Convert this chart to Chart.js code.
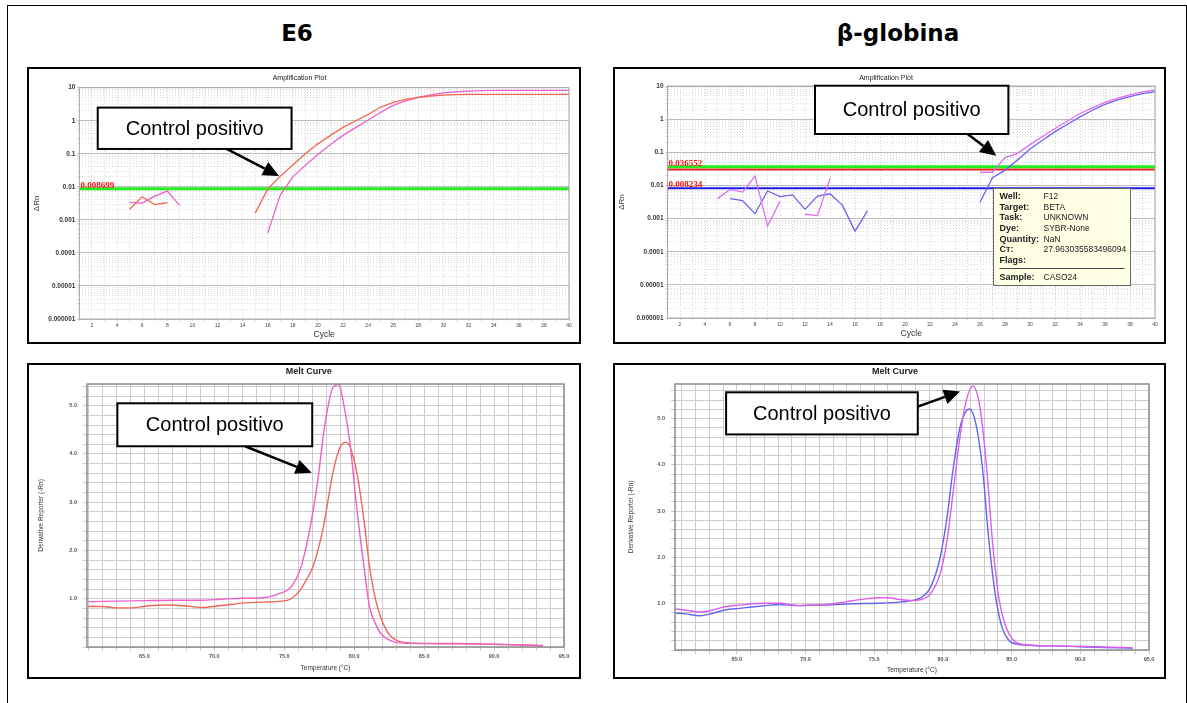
<!DOCTYPE html>
<html>
<head>
<meta charset="utf-8">
<script src="https://cdn.jsdelivr.net/npm/chart.js@4"></script>
<style>
body { margin: 0; background: #fff; }
#page { position: relative; width: 1187px; height: 703px; overflow: hidden; }
#frame { position: absolute; left: 7px; top: 5px; width: 1178px; height: 720px; border: 1px solid #000; }
.head { position: absolute; top: 20px; width: 240px; text-align: center; font: bold 23px "DejaVu Sans", Verdana, sans-serif; line-height: 26px; color: #000; }
.panel { position: absolute; border: 2px solid #000; background: #fff; }
.panel canvas { display: block; }
</style>
</head>
<body>
<div id="page">
  <div id="frame"></div>
  <div class="head" style="left:177px">E6</div>
  <div class="head" style="left:778px">β-globina</div>
  <div class="panel" style="left:27px;top:67px;width:550px;height:273px"><canvas id="c1" width="550" height="273"></canvas></div>
  <div class="panel" style="left:613px;top:67px;width:549px;height:273px"><canvas id="c2" width="549" height="273"></canvas></div>
  <div class="panel" style="left:27px;top:363px;width:550px;height:312px"><canvas id="c3" width="550" height="312"></canvas></div>
  <div class="panel" style="left:613px;top:363px;width:549px;height:312px"><canvas id="c4" width="549" height="312"></canvas></div>
</div>
<script>
const FONT = '"Liberation Sans", Arial, sans-serif';

// amplification plots: cycles and delta Rn per cycle (null = no trace)
const cycles = [1,2,3,4,5,6,7,8,9,10,11,12,13,14,15,16,17,18,19,20,21,22,23,24,25,26,27,28,29,30,31,32,33,34,35,36,37,38,39,40];
const ampXLabels = [2,4,6,8,10,12,14,16,18,20,22,24,26,28,30,32,34,36,38,40];
const ampDecades = [0.000001, 0.00001, 0.0001, 0.001, 0.01, 0.1, 1, 10];
const ampDecadeLabels = ['0.000001', '0.00001', '0.0001', '0.001', '0.01', '0.1', '1', '10'];

const e6Orange = [null,null,null,null,0.0021,0.005,0.0029,0.0033,null,null,null,null,null,null,
  0.0016,0.0085,0.021,0.046,0.10,0.20,0.36,0.63,1.0,1.55,2.6,3.6,4.4,5.1,5.6,6.0,6.2,6.3,6.3,6.3,6.3,6.3,6.3,6.3,6.3,6.3];
const e6Pink = [null,null,null,null,0.0034,0.0032,0.0052,0.0074,0.0027,null,null,null,null,null,null,
  0.0004,0.0056,0.020,0.045,0.095,0.19,0.36,0.62,1.05,1.8,2.9,4.0,5.1,6.1,7.0,7.5,7.9,8.1,8.3,8.3,8.3,8.3,8.3,8.3,8.3];
const e6Threshold = 0.008699;

const betaPink = [null,null,null,null,0.004,0.0076,0.0063,0.019,0.0006,0.0033,null,0.00135,0.00123,0.016,
  null,null,null,null,null,null,null,null,null,null,null,
  0.025,0.025,0.069,0.093,0.17,0.30,0.52,0.88,1.48,2.2,3.2,4.3,5.4,6.6,7.6];
const betaBlue = [null,null,null,null,null,0.004,0.0035,0.0014,0.0068,0.0046,0.0052,0.0019,0.0048,0.0056,0.0025,0.00042,0.0017,
  null,null,null,null,null,null,null,null,
  0.0031,0.017,0.029,0.059,0.125,0.23,0.42,0.70,1.17,1.85,2.8,3.8,4.8,5.9,6.8];
const betaThresholds = [0.036552, 0.030, 0.008234];

const tipRows = [['Well:', 'F12'], ['Target:', 'BETA'], ['Task:', 'UNKNOWN'], ['Dye:', 'SYBR-None'],
  ['Quantity:', 'NaN'], ['Cт:', '27.963035583496094'], ['Flags:', '']];
const tipSample = ['Sample:', 'CASO24'];

// melt curves: temperature (°C) and derivative reporter
const meltXTicks = [65, 70, 75, 80, 85, 90, 95];
const meltXLabels = ['65.0', '70.0', '75.0', '80.0', '85.0', '90.0', '95.0'];
const meltYTicks = [1, 2, 3, 4, 5];
const meltYLabels = ['1.0', '2.0', '3.0', '4.0', '5.0'];

const meltE6PinkT = [61,63,65,67,69,70.5,72,73.5,74.6,75.5,76.2,76.95,77.4,77.9,78.5,78.9,79.2,79.7,80.2,80.7,81.1,81.5,81.9,82.8,83.5,86,89,91,92.5,93.5];
const meltE6PinkV = [0.94,0.95,0.96,0.97,0.97,0.99,1.01,1.02,1.1,1.25,1.66,2.63,3.46,4.6,5.39,5.44,5.11,4.22,2.84,1.66,0.83,0.5,0.28,0.11,0.08,0.07,0.06,0.05,0.035,0.02];
const meltE6OrangeT = [61,62,63,64,65.2,66.5,68,69,70.5,72,73.5,74.8,75.5,76.14,76.6,77.1,77.8,78.5,79.0,79.4,79.7,80.2,80.7,81.1,81.6,82.3,83.0,84.2,88,91,93.5];
const meltE6OrangeV = [0.84,0.84,0.81,0.81,0.85,0.87,0.85,0.82,0.86,0.91,0.93,0.95,1.0,1.18,1.4,1.7,2.49,3.64,4.15,4.24,4.15,3.6,2.63,1.66,0.9,0.35,0.14,0.08,0.07,0.05,0.03];

const meltBetaPinkT = [60.5,61.3,62.3,63.2,64.2,65.2,66.1,67,68.1,69.5,70.5,71.4,72.5,73.3,74.3,75.3,76.0,76.9,77.7,78.4,79.1,79.8,80.3,80.76,81.24,81.7,82.2,82.56,82.8,83.2,83.6,84.1,84.6,85.1,85.8,88,91,93.8];
const meltBetaPinkV = [0.89,0.86,0.82,0.86,0.94,0.97,1.0,1.01,1.01,0.96,0.97,0.98,1.02,1.06,1.1,1.13,1.13,1.09,1.07,1.09,1.22,1.65,2.37,3.45,4.6,5.39,5.71,5.46,5.03,3.88,2.37,1.07,0.49,0.22,0.12,0.09,0.07,0.05];
const meltBetaBlueT = [60.5,61.3,62.3,63.2,64.2,65.2,66.1,67.1,68.1,69.5,70.5,71.4,72.5,73.3,75.3,76.9,78.4,79.1,79.8,80.3,80.76,81.24,81.7,81.95,82.4,82.9,83.3,83.8,84.3,84.8,85.5,88,91,93.8];
const meltBetaBlueV = [0.80,0.78,0.74,0.79,0.87,0.90,0.93,0.96,0.985,0.96,0.97,0.97,0.99,1.0,1.01,1.04,1.13,1.36,2.0,2.87,3.95,4.81,5.17,5.21,4.89,3.88,2.51,1.22,0.49,0.21,0.12,0.09,0.06,0.04];

// extra drawing per canvas (titles, threshold labels, callouts, tooltip box)
const overlays = {};

const overlayPlugin = {
  id: 'overlay',
  afterDatasetsDraw(chart) {
    const o = overlays[chart.canvas.id];
    if (!o) return;
    const ctx = chart.ctx, a = chart.chartArea;
    const px = v => chart.scales.x.getPixelForValue(v);
    const py = v => chart.scales.y.getPixelForValue(v);
    ctx.save();
    ctx.strokeStyle = o.frame;
    ctx.lineWidth = o.frameWidth;
    ctx.strokeRect(a.left, a.top, a.right - a.left, a.bottom - a.top);

    ctx.font = 'bold 9px "Liberation Serif", "Times New Roman", serif';
    ctx.fillStyle = '#ff1010';
    ctx.textAlign = 'left';
    ctx.textBaseline = 'alphabetic';
    (o.labels || []).forEach(l => ctx.fillText(l.text, a.left + 1, py(l.value) - 1));

    (o.notes || []).forEach(n => {
      const x1 = px(n.box[0]), y1 = py(n.box[1]), x2 = px(n.box[2]), y2 = py(n.box[3]);
      const fx = px(n.from[0]), fy = py(n.from[1]), tx = px(n.to[0]), ty = py(n.to[1]);
      const ang = Math.atan2(ty - fy, tx - fx);
      const hl = 16, hw = 7.5;
      const bx = tx - hl * Math.cos(ang), by = ty - hl * Math.sin(ang);
      ctx.strokeStyle = '#000';
      ctx.lineWidth = 2.5;
      ctx.beginPath(); ctx.moveTo(fx, fy); ctx.lineTo(bx, by); ctx.stroke();
      ctx.beginPath();
      ctx.moveTo(tx, ty);
      ctx.lineTo(bx + hw * Math.sin(ang), by - hw * Math.cos(ang));
      ctx.lineTo(bx - hw * Math.sin(ang), by + hw * Math.cos(ang));
      ctx.closePath();
      ctx.fillStyle = '#000';
      ctx.fill();
      ctx.fillStyle = '#fff';
      ctx.fillRect(x1, y1, x2 - x1, y2 - y1);
      ctx.lineWidth = 2;
      ctx.strokeRect(x1, y1, x2 - x1, y2 - y1);
      ctx.fillStyle = '#000';
      ctx.font = '20px ' + FONT;
      ctx.textAlign = 'center';
      ctx.textBaseline = 'middle';
      ctx.fillText(n.text, (x1 + x2) / 2, (y1 + y2) / 2 + 1);
    });

    if (o.tip) {
      const t = o.tip;
      const x1 = Math.round(px(t.box[0])) + 0.5, y1 = Math.round(py(t.box[1])) + 0.5;
      const x2 = Math.round(px(t.box[2])) + 0.5, y2 = Math.round(py(t.box[3])) + 0.5;
      ctx.fillStyle = '#ffffe3';
      ctx.fillRect(x1, y1, x2 - x1, y2 - y1);
      ctx.strokeStyle = '#666';
      ctx.lineWidth = 1;
      ctx.strokeRect(x1, y1, x2 - x1, y2 - y1);
      ctx.textAlign = 'left';
      ctx.textBaseline = 'middle';
      ctx.fillStyle = '#222';
      const row = (r, yy) => {
        ctx.font = 'bold 9px ' + FONT;
        ctx.fillText(r[0], x1 + 6, yy);
        ctx.font = '8.5px ' + FONT;
        ctx.fillText(r[1], x1 + 50, yy);
      };
      tipRows.forEach((r, i) => row(r, y1 + 8 + i * 10.7));
      ctx.strokeStyle = '#444';
      ctx.beginPath(); ctx.moveTo(x1 + 6, y1 + 80); ctx.lineTo(x2 - 6, y1 + 80); ctx.stroke();
      row(tipSample, y1 + 89.5);
    }
    ctx.restore();
  },
  afterDraw(chart) {
    const o = overlays[chart.canvas.id];
    if (!o || !o.title) return;
    const ctx = chart.ctx;
    ctx.save();
    ctx.font = o.title.font;
    ctx.fillStyle = '#222';
    ctx.textAlign = 'center';
    ctx.textBaseline = 'middle';
    ctx.fillText(o.title.text, o.title.x, o.title.y);
    ctx.restore();
  }
};

function ampChart(id, series, lines, g) {
  const datasets = series.map(s => ({
    data: s.values, borderColor: s.color, borderWidth: 1.3, pointRadius: 0, tension: 0, spanGaps: false
  }));
  lines.forEach(l => datasets.push({
    data: [{ x: cycles[0], y: l.value }, { x: cycles[cycles.length - 1], y: l.value }],
    borderColor: l.color, borderWidth: l.width, pointRadius: 0
  }));
  return new Chart(document.getElementById(id), {
    type: 'line',
    data: { labels: cycles, datasets: datasets },
    plugins: [overlayPlugin],
    options: {
      responsive: false,
      animation: false,
      layout: { padding: { left: 0, right: g.R, top: g.T, bottom: 0 } },
      plugins: { legend: { display: false }, tooltip: { enabled: false } },
      scales: {
        x: {
          type: 'linear', min: cycles[0], max: cycles[cycles.length - 1], bounds: 'data',
          afterBuildTicks: s => { s.ticks = cycles.map(v => ({ value: v })); },
          afterFit: s => { s.height = g.B; },
          ticks: {
            autoSkip: false, maxRotation: 0, padding: 2, color: '#444',
            font: { size: 5, family: FONT },
            callback: v => ampXLabels.includes(v) ? String(v) : ''
          },
          grid: { color: '#d2d2d2', tickLength: 2 },
          border: { display: false, dash: c => c.tick ? [1, 2] : [] },
          title: { display: true, text: 'Cycle', color: '#333', font: { size: 8.5, family: FONT }, padding: { top: 0, bottom: g.xPad } }
        },
        y: {
          type: 'logarithmic', min: ampDecades[0], max: ampDecades[ampDecades.length - 1], bounds: 'data',
          afterBuildTicks: s => {
            const t = [];
            ampDecades.forEach((d, i) => {
              t.push({ value: d, major: true });
              if (i < ampDecades.length - 1) for (let m = 2; m <= 9; m++) t.push({ value: d * m, major: false });
            });
            s.ticks = t;
          },
          afterFit: s => { s.width = g.L; },
          ticks: {
            autoSkip: false, padding: 2, color: '#333',
            font: { size: 6.5, weight: 'bold', family: FONT },
            callback: (v, i, t) => t[i].major ? ampDecadeLabels[ampDecades.indexOf(v)] : ''
          },
          grid: { color: c => c.tick && c.tick.major ? '#bdbdbd' : '#dcdcdc', tickLength: 2 },
          border: { display: false, dash: c => c.tick && !c.tick.major ? [1, 2] : [] },
          title: { display: true, text: 'ΔRn', color: '#333', font: { size: 8, family: FONT }, padding: { top: g.yPad, bottom: 0 } }
        }
      }
    }
  });
}

function meltChart(id, series, g) {
  return new Chart(document.getElementById(id), {
    type: 'line',
    data: {
      datasets: series.map(s => ({
        data: s.temps.map((t, i) => ({ x: t, y: s.values[i] })),
        borderColor: s.color, borderWidth: 1.4, pointRadius: 0, cubicInterpolationMode: 'monotone'
      }))
    },
    plugins: [overlayPlugin],
    options: {
      responsive: false,
      animation: false,
      layout: { padding: { left: 0, right: g.R, top: g.T, bottom: 0 } },
      plugins: { legend: { display: false }, tooltip: { enabled: false } },
      scales: {
        x: {
          type: 'linear', min: g.xMin, max: meltXTicks[meltXTicks.length - 1], bounds: 'data',
          afterBuildTicks: s => {
            const t = [];
            for (let v = Math.ceil(s.min); v <= s.max; v++) t.push({ value: v });
            s.ticks = t;
          },
          afterFit: s => { s.height = g.B; },
          ticks: {
            autoSkip: false, maxRotation: 0, padding: 2, color: '#555',
            font: { size: 5.5, weight: 'bold', family: FONT },
            callback: v => { const i = meltXTicks.indexOf(v); return i >= 0 ? meltXLabels[i] : ''; }
          },
          grid: { color: '#cccccc', tickLength: 4 },
          border: { display: false },
          title: { display: true, text: 'Temperature (°C)', color: '#333', font: { size: 6.5, family: FONT }, padding: { top: 0, bottom: g.xPad } }
        },
        y: {
          type: 'linear', min: 0, max: g.yMax, bounds: 'data',
          afterBuildTicks: s => {
            const t = [];
            for (let k = 0; k / 5 <= s.max; k++) t.push({ value: k / 5 });
            s.ticks = t;
          },
          afterFit: s => { s.width = g.L; },
          ticks: {
            autoSkip: false, padding: 6, color: '#555',
            font: { size: 5.5, weight: 'bold', family: FONT },
            callback: v => { const i = meltYTicks.findIndex(m => Math.abs(m - v) < 1e-6); return i >= 0 ? meltYLabels[i] : ''; }
          },
          grid: { color: '#cccccc', tickLength: 4 },
          border: { display: false },
          title: { display: true, text: 'Derivative Reporter (-Rn)', color: '#333', font: { size: 6.5, family: FONT }, padding: { top: g.yPad, bottom: 0 } }
        }
      }
    }
  });
}

overlays.c1 = {
  frame: '#a8a8a8', frameWidth: 1,
  title: { text: 'Amplification Plot', x: 270.5, y: 9, font: '7px ' + FONT },
  labels: [{ text: '0.008699', value: e6Threshold }],
  notes: [{ text: 'Control positivo', box: [2.46, 2.5, 17.9, 0.14], from: [12.73, 0.14], to: [16.9, 0.0214] }]
};
overlays.c2 = {
  frame: '#a8a8a8', frameWidth: 1,
  title: { text: 'Amplification Plot', x: 271, y: 9, font: '7px ' + FONT },
  labels: [{ text: '0.036552', value: betaThresholds[0] }, { text: '0.008234', value: betaThresholds[2] }],
  notes: [{ text: 'Control positivo', box: [12.8, 10.2, 28.27, 0.356], from: [24.9, 0.38], to: [27.3, 0.079] }],
  tip: { box: [27.07, 0.0085, 37.97, 0.0000099] }
};
overlays.c3 = {
  frame: '#8c8c8c', frameWidth: 1.5,
  title: { text: 'Melt Curve', x: 279.7, y: 7, font: 'bold 9px ' + FONT },
  notes: [{ text: 'Control positivo', box: [63.07, 5.05, 77.0, 4.16], from: [72.2, 4.16], to: [76.96, 3.61] }]
};
overlays.c4 = {
  frame: '#8c8c8c', frameWidth: 1.5,
  title: { text: 'Melt Curve', x: 280, y: 7, font: 'bold 9px ' + FONT },
  notes: [{ text: 'Control positivo', box: [64.22, 5.57, 78.17, 4.66], from: [78.17, 5.26], to: [81.24, 5.59] }]
};

ampChart('c1',
  [{ values: e6Orange, color: '#f3684c' }, { values: e6Pink, color: '#f060cc' }],
  [{ value: e6Threshold, color: '#22ee22', width: 3 }],
  { L: 50.4, R: 10, T: 18.7, B: 23, xPad: 2.6, yPad: 3.2 });

ampChart('c2',
  [{ values: betaPink, color: '#dd6ef0' }, { values: betaBlue, color: '#6b63f0' }],
  [{ value: betaThresholds[0], color: '#22ee22', width: 3 },
   { value: betaThresholds[1], color: '#ee1c1c', width: 2 },
   { value: betaThresholds[2], color: '#1a1aee', width: 2 }],
  { L: 52.5, R: 9, T: 17, B: 24, xPad: 3.6, yPad: 1.9 });

meltChart('c3',
  [{ temps: meltE6PinkT, values: meltE6PinkV, color: '#ee60c8' }, { temps: meltE6OrangeT, values: meltE6OrangeV, color: '#f0665a' }],
  { L: 58, R: 15, T: 19, B: 30, xMin: 60.9, yMax: 5.45, xPad: 4.8, yPad: 8.8 });

meltChart('c4',
  [{ temps: meltBetaPinkT, values: meltBetaPinkV, color: '#dd5ee8' }, { temps: meltBetaBlueT, values: meltBetaBlueV, color: '#6464ee' }],
  { L: 60, R: 15, T: 19, B: 27, xMin: 60.5, yMax: 5.75, xPad: 2.4, yPad: 12.8 });
</script>
</body>
</html>
